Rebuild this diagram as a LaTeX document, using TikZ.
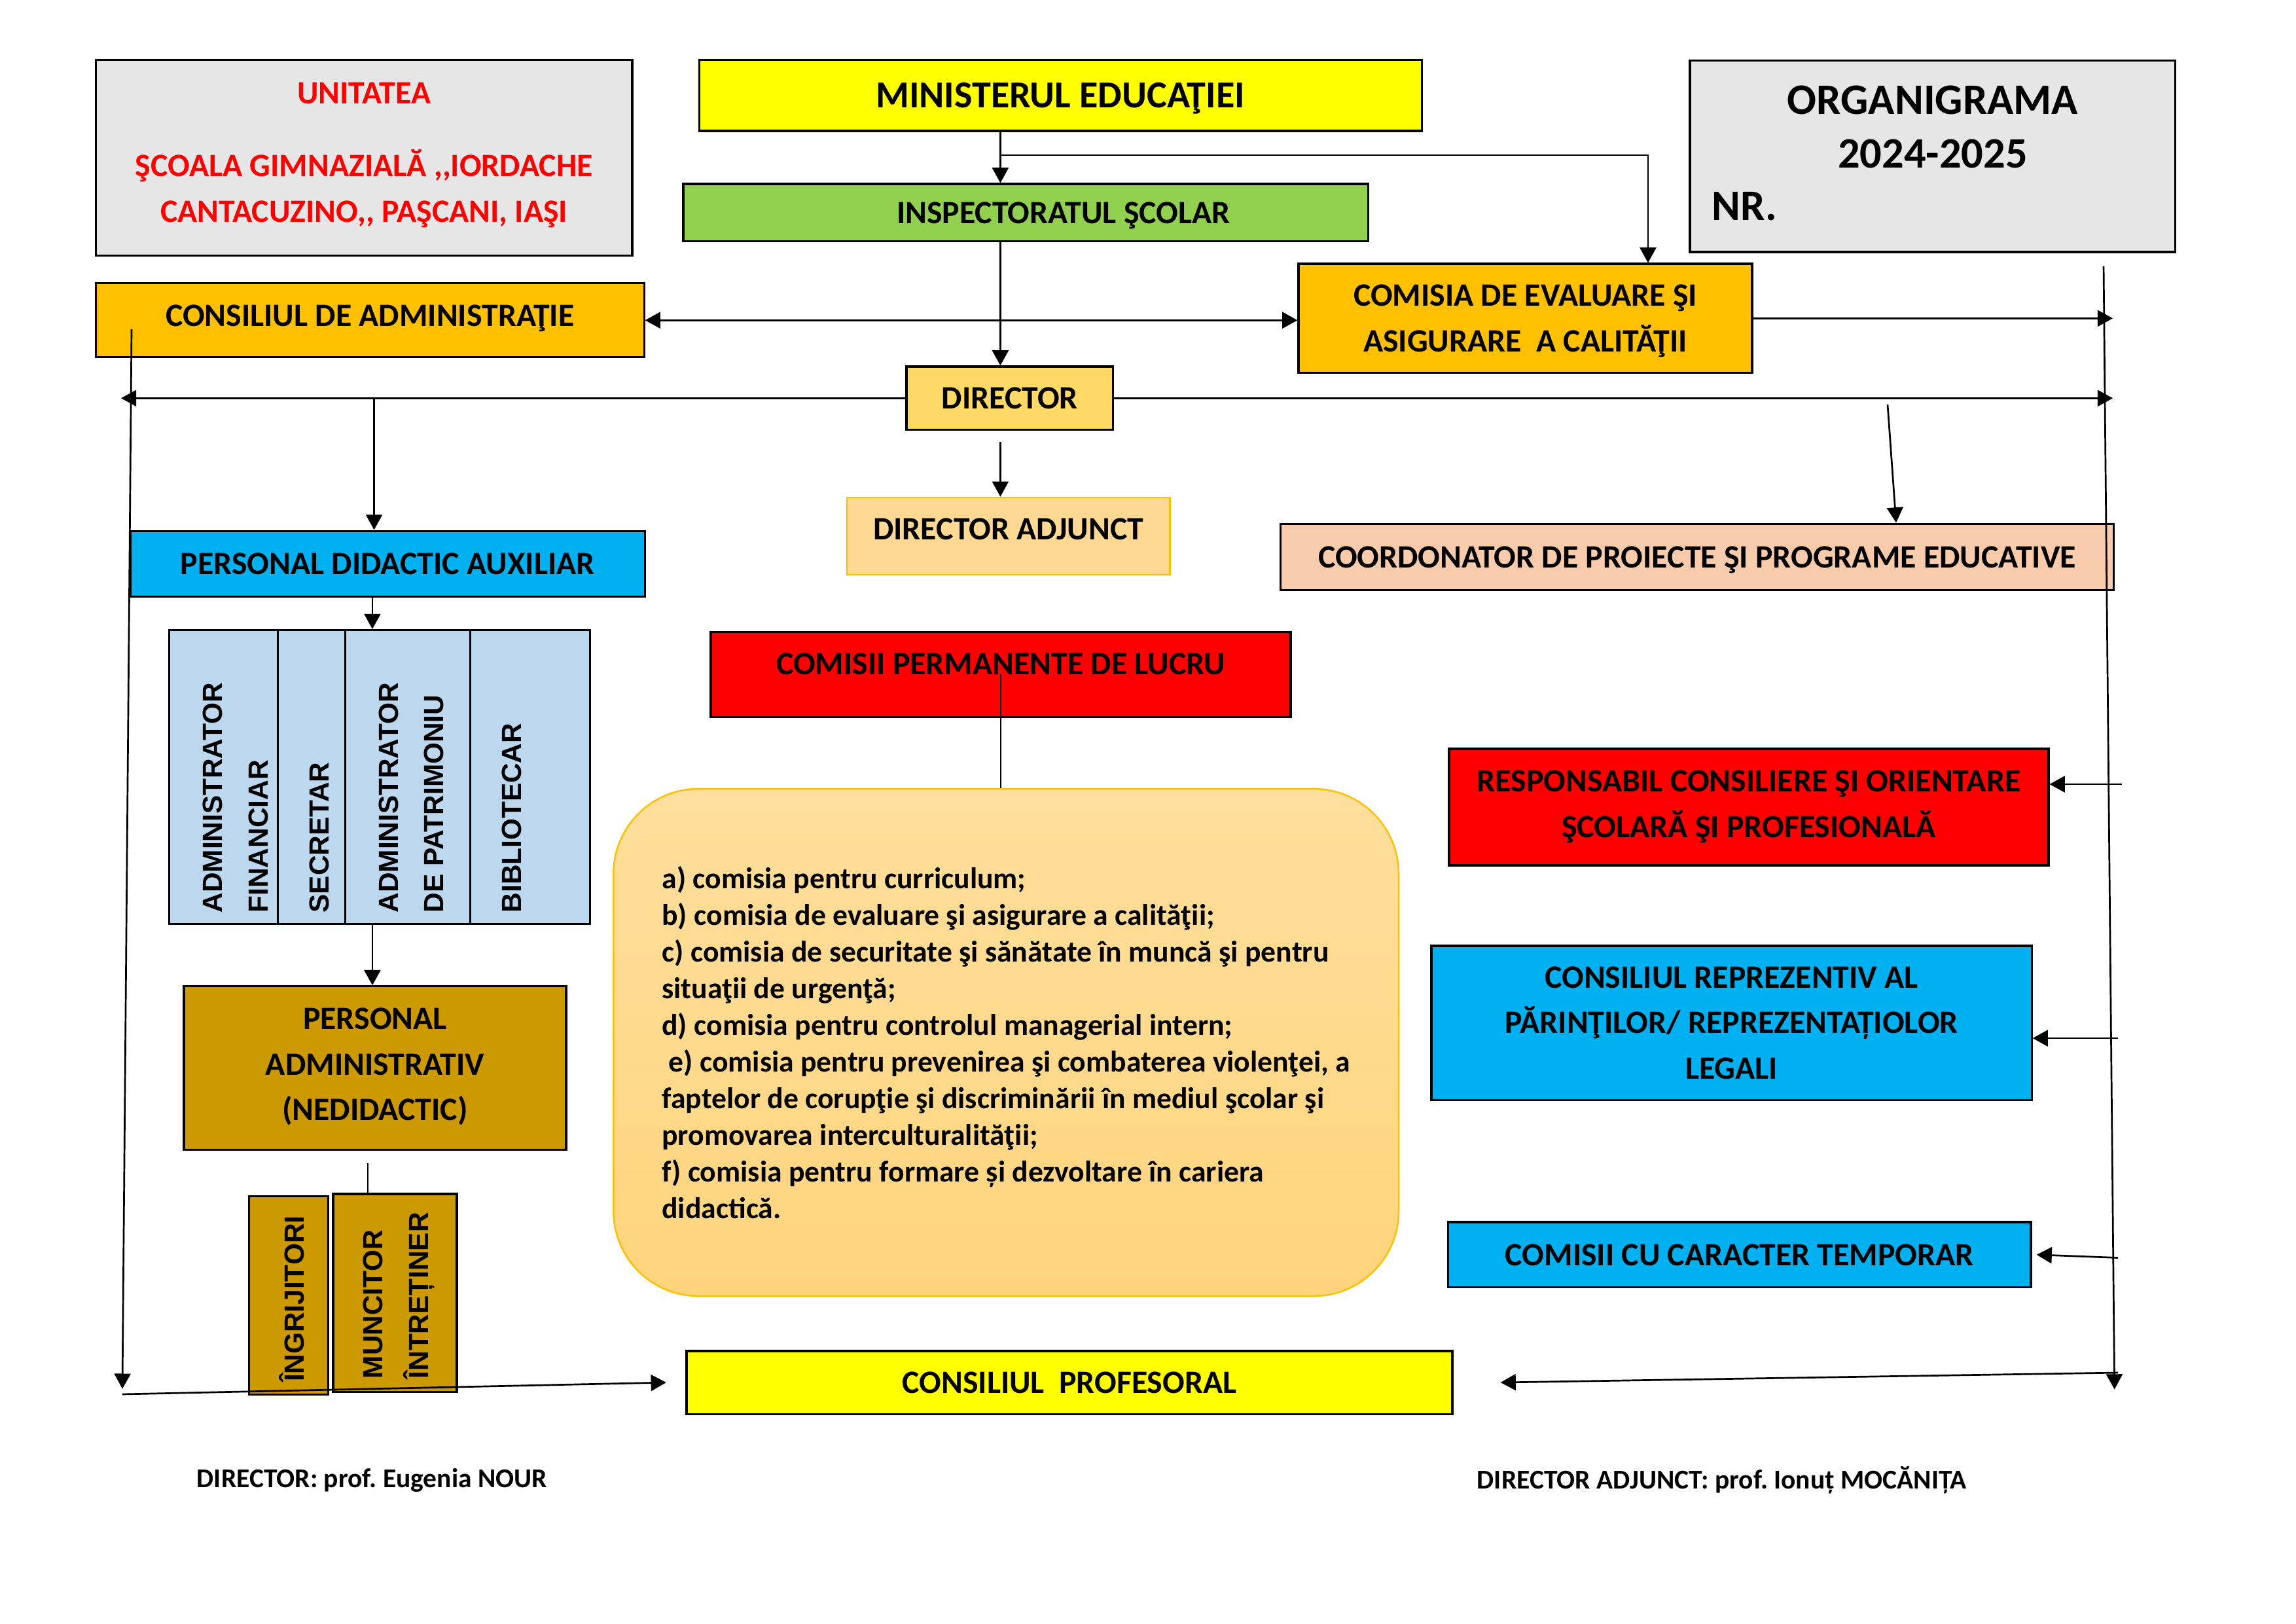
\documentclass[tikz,border=0pt]{standalone}
\usepackage{fontspec}
\setmainfont{Carlito}
\newfontfamily\latfont{Liberation Sans}
\usetikzlibrary{arrows.meta,positioning,calc}
\frenchspacing
\definecolor{gri}{HTML}{E6E6E6}
\definecolor{galben}{HTML}{FFFF00}
\definecolor{verde}{HTML}{92D050}
\definecolor{portocaliu}{HTML}{FFC000}
\definecolor{auriu}{HTML}{FFD966}
\definecolor{auriudesc}{HTML}{FFD994}
\definecolor{albastru}{HTML}{00B0F0}
\definecolor{bleu}{HTML}{BDD7EE}
\definecolor{ocru}{HTML}{CC9900}
\definecolor{piersica}{HTML}{F8CBAD}
\definecolor{rosu}{HTML}{FF0000}
\definecolor{listasus}{HTML}{FFDF9E}
\definecolor{listajos}{HTML}{FFD47C}
\tikzstyle{caseta}=[rectangle,draw=black,line width=0.75pt,inner sep=2pt,text depth=0pt,align=center,font=\bfseries\fontsize{12}{16.8}\selectfont]
\tikzstyle{textvert}=[rotate=90,anchor=west,inner sep=0pt,align=left,font=\latfont\bfseries\fontsize{10.2}{16.8}\selectfont]
\tikzstyle{semnatura}=[anchor=west,inner sep=0pt,font=\bfseries\fontsize{10}{12}\selectfont]

\begin{document}
\begin{tikzpicture}
	\fill[white] (0,0) rectangle (29.7,-21);
	\useasboundingbox (0,0) rectangle (29.7,-21);
	% antet
	\node[caseta,fill=gri,text=rosu,text depth=0.15cm,minimum width=6.938cm,minimum height=2.531cm]
		(unit)	at (4.709,-2.042)	{UNITATEA\\[10pt]ŞCOALA GIMNAZIALĂ ,{},IORDACHE\\CANTACUZINO,{}, PAŞCANI, IAŞI};
	\node[caseta,fill=galben,minimum width=9.347cm,minimum height=0.917cm,font=\bfseries\fontsize{14}{17}\selectfont]
		(min)	at (13.716,-1.235)	{MINISTERUL EDUCAŢIEI};
	\node[caseta,fill=verde,minimum width=8.856cm,minimum height=0.742cm]
		(insp)	at (13.267,-2.750)	{\hspace*{0.98cm}INSPECTORATUL ŞCOLAR};
	\node[caseta,fill=gri,minimum width=6.274cm,minimum height=2.476cm]
		(org)	at (24.997,-2.021)	{};
	\node[align=center,inner sep=0pt,font=\bfseries\fontsize{16}{19.7}\selectfont]
		(orgt)	at (25.0,-1.641)	{ORGANIGRAMA\\2024-2025};
	\node[anchor=west,inner sep=0pt,font=\bfseries\fontsize{16}{19.7}\selectfont]
		(nr)	at (22.140,-2.667)	{NR.};
	\node[caseta,fill=portocaliu,text depth=0.12cm,minimum width=7.091cm,minimum height=0.958cm]
		(cadm)	at (4.786,-4.142)	{CONSILIUL DE ADMINISTRAŢIE};
	\node[caseta,fill=portocaliu,minimum width=5.867cm,minimum height=1.410cm]
		(comev)	at (19.731,-4.117)	{COMISIA DE EVALUARE ŞI\\ASIGURARE\ \ A CALITĂŢII};
	\node[caseta,fill=auriu,minimum width=2.675cm,minimum height=0.818cm]
		(dir)	at (13.063,-5.150)	{DIRECTOR};
	\node[caseta,fill=auriudesc,draw=portocaliu,line width=0.6pt,minimum width=4.178cm,minimum height=0.999cm]
		(dadj)	at (13.045,-6.934)	{\raisebox{0.19cm}{DIRECTOR ADJUNCT}};
	\node[caseta,fill=piersica,minimum width=10.778cm,minimum height=0.859cm]
		(coord)	at (21.953,-7.203)	{COORDONATOR DE PROIECTE ŞI PROGRAME EDUCATIVE};
	% stanga
	\node[caseta,fill=albastru,minimum width=6.659cm,minimum height=0.847cm]
		(pda)	at (5.014,-7.290)	{PERSONAL DIDACTIC AUXILIAR};
	\node[caseta,fill=bleu,minimum width=1.408cm,minimum height=3.803cm] (sb1) at (2.892,-10.051) {};
	\node[caseta,fill=bleu,minimum width=0.874cm,minimum height=3.803cm] (sb2) at (4.033,-10.051) {};
	\node[caseta,fill=bleu,minimum width=1.611cm,minimum height=3.803cm] (sb3) at (5.275,-10.051) {};
	\node[caseta,fill=bleu,minimum width=1.554cm,minimum height=3.803cm] (sb4) at (6.857,-10.051) {};
	\node[textvert] (tsb1) at (3.048,-11.811) {ADMINISTRATOR\\FINANCIAR};
	\node[textvert] (tsb2) at (4.129,-11.811) {SECRETAR};
	\node[textvert] (tsb3) at (5.321,-11.811) {ADMINISTRATOR\\DE PATRIMONIU};
	\node[textvert] (tsb4) at (6.621,-11.811) {BIBLIOTECAR};
	\node[caseta,fill=ocru,text depth=0.1cm,minimum width=4.944cm,minimum height=2.117cm]
		(pa)	at (4.851,-13.815)	{PERSONAL\\ADMINISTRATIV\\(NEDIDACTIC)};
	\node[caseta,fill=ocru,minimum width=1.021cm,minimum height=2.569cm] (ingr) at (3.734,-16.755) {};
	\node[caseta,fill=ocru,minimum width=1.600cm,minimum height=2.563cm] (munc) at (5.109,-16.724) {};
	\node[textvert] (tingr) at (3.773,-17.879) {ÎNGRIJITORI};
	\node[textvert] (tmunc) at (5.158,-17.839) {MUNCITOR\\ÎNTREȚINER};
	% centru
	\node[caseta,fill=rosu,minimum width=7.501cm,minimum height=1.096cm]
		(cperm)	at (12.945,-8.723)	{\raisebox{0.27cm}{COMISII PERMANENTE DE LUCRU}};
	\node[rectangle,rounded corners=1.1cm,draw=portocaliu,line width=0.6pt,top color=listasus,bottom color=listajos,
		minimum width=10.157cm,minimum height=6.561cm,align=left,font=\bfseries\fontsize{11}{13.5}\selectfont]
		(clist)	at (13.014,-13.483)	{a) comisia pentru curriculum;\\
		b) comisia de evaluare şi asigurare a calităţii;\\
		c) comisia de securitate şi sănătate în muncă şi pentru\\
		situaţii de urgenţă;\\
		d) comisia pentru controlul managerial intern;\\
		\hspace*{0.226em}e) comisia pentru prevenirea şi combaterea violenţei, a\\
		faptelor de corupţie şi discriminării în mediul şcolar şi\\
		promovarea interculturalităţii;\\
		f) comisia pentru formare și dezvoltare în cariera\\
		didactică.};
	\node[caseta,fill=galben,minimum width=9.906cm,minimum height=0.813cm]
		(cprof)	at (13.834,-17.881)	{CONSILIUL\ \ PROFESORAL};
	% dreapta
	\node[caseta,fill=rosu,text depth=0.08cm,minimum width=7.755cm,minimum height=1.507cm]
		(resp)	at (22.622,-10.439)	{RESPONSABIL CONSILIERE ŞI ORIENTARE\\ŞCOLARĂ ŞI PROFESIONALĂ};
	\node[caseta,fill=albastru,minimum width=7.764cm,minimum height=1.990cm]
		(crep)	at (22.398,-13.229)	{CONSILIUL REPREZENTIV AL\\PĂRINŢILOR/ REPREZENTAȚIOLOR\\LEGALI};
	\node[caseta,fill=albastru,minimum width=7.538cm,minimum height=0.843cm]
		(ctemp)	at (22.502,-16.228)	{COMISII CU CARACTER TEMPORAR};
	% semnaturi
	\node[semnatura] (semn1) at (2.540,-19.142) {DIRECTOR: prof. Eugenia NOUR};
	\node[semnatura] (semn2) at (19.100,-19.142) {DIRECTOR ADJUNCT: prof. Ionuț MOCĂNIȚA};

	\begin{scope}[>={Triangle[length=5.6pt,width=6pt]},line width=0.65pt]
		\coordinate (colM) at (12.94,0);
		\coordinate (colE) at (21.318,0);
		\coordinate (colP) at (4.839,0);
		\coordinate (colS) at (4.817,0);
		\coordinate (colN) at (4.758,0);
		\coordinate (stg) at (1.566,0);
		\coordinate (dr) at (27.33,0);
		\coordinate (mbr) at (12.94,-2.007);
		\coordinate (cp) at (24.417,-5.232);
		\coordinate (lt) at (1.702,-4.259);
		\coordinate (lb) at (1.583,-17.963);
		\coordinate (bl) at (1.583,-18.033);
		\coordinate (rt) at (27.211,-3.442);
		\coordinate (rb) at (27.352,-17.970);
		\coordinate (br) at (27.397,-17.754);
		\coordinate (rr1) at (27.448,-10.143);
		\coordinate (rr2) at (27.397,-13.428);
		\coordinate (rr3) at (27.397,-16.268);
		\draw[->]	(colM |- min.south) -- (colM |- insp.north);
		\draw[->]	(mbr) -| (colE |- comev.north);
		\draw[->]	(colM |- insp.south) -- (colM |- dir.north);
		\draw[<->]	(cadm.east) -- (cadm.east -| comev.west);
		\draw[->]	(comev.east) -- (comev.east -| dr);
		\draw[->]	(dir.west) -- (dir.west -| stg);
		\draw[->]	(dir.east) -- (dir.east -| dr);
		\draw[->]	(colP |- dir.west) -- (colP |- pda.north);
		\draw[->]	(cp) -- ([xshift=2.574cm]coord.north);
		\draw[->,shorten <=0.14cm]	(colM |- dir.south) -- (colM |- dadj.north);
		\draw[->]	(colS |- pda.south) -- (colS |- sb3.north);
		\draw[->]	(colS |- sb3.south) -- (colS |- pa.north);
		\draw[shorten <=0.16cm]	(colN |- pa.south) -- (colN |- munc.north);
		\draw		(cperm.center) -- (cperm.center |- clist.north);
		\draw[->]	(lt) -- (lb);
		\draw[->]	(bl) -- ([xshift=-0.25cm]cprof.west);
		\draw[->]	(rt) -- (rb);
		\draw[->]	(br) -- ([xshift=0.61cm]cprof.east);
		\draw[->]	(rr1) -- (rr1 -| resp.east);
		\draw[->]	(rr2) -- (rr2 -| crep.east);
		\draw[->]	(rr3) -- ([xshift=0.06cm]ctemp.east);
	\end{scope}
\end{tikzpicture}
\end{document}
